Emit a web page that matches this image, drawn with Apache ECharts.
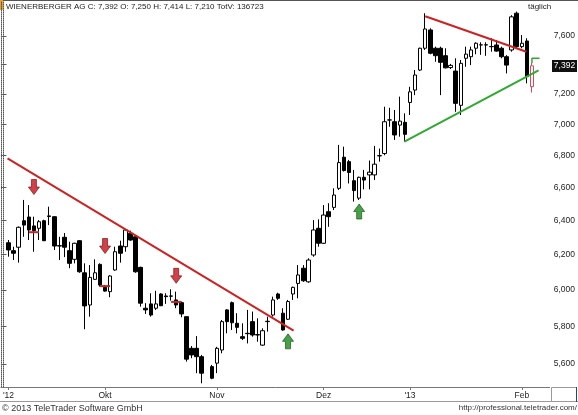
<!DOCTYPE html>
<html>
<head>
<meta charset="utf-8">
<script src="https://cdn.jsdelivr.net/npm/echarts@6/dist/echarts.min.js"></script>
<style>
  html, body { margin: 0; padding: 0; background: #fff; }
  #chart { width: 578px; height: 415px; }
</style>
</head>
<body>
<div id="chart"></div>
<script>
// Tageskerzen Sep 2012 - Feb 2013: [open, close, low, high], null = leerer Platz
const candles = [
  [6269, 6227, 6188, 6285], [6223, 6208, 6169, 6246], [6243, 6360, 6154, 6365],
  [6399, 6373, 6304, 6524], [6421, 6344, 6285, 6493], [6368, 6340, 6217, 6423],
  [6354, 6393, 6285, 6403], [6399, 6281, 6279, 6405], [6424, 6428, 6373, 6483],
  [6423, 6250, 6227, 6425], [6252, 6250, 6169, 6304], [6301, 6243, 6186, 6326],
  [6223, 6150, 6122, 6275], [6173, 6266, 6150, 6269], [6281, 6102, 6096, 6285],
  [6096, 5911, 5784, 6150], [5916, 6070, 5852, 6140], [6059, 6096, 6055, 6173],
  [6144, 6027, 6018, 6150], [6014, 5993, 5990, 6027], [5990, 6078, 5959, 6082],
  [6112, 6217, 6108, 6246], [6250, 6208, 6154, 6281], [6246, 6344, 6217, 6348],
  [6324, 6285, 6281, 6340], [6304, 6102, 6096, 6314], [6127, 5926, 5907, 6131],
  [5898, 5889, 5867, 5926], [5922, 5861, 5852, 5981], [5898, 5922, 5889, 5995],
  [5977, 5912, 5910, 5981], [5966, 5962, 5922, 5981], [5966, 5965, 5940, 6003],
  [5944, 5916, 5898, 5990], [5929, 5867, 5849, 5935], [5852, 5625, 5612, 5855],
  [5682, 5647, 5630, 5694], [5682, 5638, 5552, 5747], [5638, 5552, 5500, 5647],
  null,
  [5586, 5526, 5521, 5595], [5604, 5682, 5552, 5690], [5673, 5825, 5656, 5834],
  [5889, 5825, 5762, 5893], [5929, 5819, 5780, 5935], [5816, 5794, 5762, 5871],
  [5744, 5735, 5726, 5816], [5762, 5760, 5708, 5889], [5825, 5753, 5744, 5880],
  [5755, 5753, 5717, 5843], [5699, 5776, 5695, 5789], [5825, 5827, 5771, 5852],
  [5861, 5944, 5852, 5962], [5977, 5953, 5944, 5984], [5871, 5780, 5776, 5898],
  [5838, 5935, 5834, 5944], [5977, 6014, 5944, 6018], [6036, 6084, 5953, 6140],
  [6122, 6051, 6045, 6140], [6045, 6169, 6040, 6179], [6198, 6344, 6188, 6403],
  [6354, 6266, 6246, 6407], [6266, 6433, 6262, 6493], [6453, 6423, 6363, 6504],
  [6479, 6554, 6463, 6595], [6595, 6755, 6585, 6867], [6789, 6705, 6699, 6856],
  [6761, 6693, 6625, 6772], [6642, 6581, 6514, 6709], [6535, 6663, 6524, 6667],
  [6663, 6646, 6589, 6709], [6678, 6695, 6589, 6768], [6678, 6745, 6646, 6861],
  [6797, 6799, 6761, 6844], [6812, 7017, 6801, 7116], [7028, 7029, 6984, 7109],
  [7017, 6931, 6899, 7094], [6995, 7021, 6920, 7183], [7013, 6935, 6888, 7072],
  [7144, 7215, 7061, 7249], [7227, 7329, 7193, 7363], [7363, 7514, 7356, 7518],
  [7514, 7650, 7502, 7763], [7643, 7479, 7472, 7655], [7514, 7462, 7420, 7525],
  [7514, 7416, 7193, 7525], [7462, 7378, 7374, 7514], [7380, 7395, 7370, 7405],
  [7356, 7138, 7082, 7444], [7125, 7409, 7061, 7432], [7444, 7473, 7386, 7525],
  [7455, 7502, 7397, 7525], [7514, 7549, 7472, 7556], [7537, 7538, 7468, 7556],
  [7538, 7537, 7461, 7556], [7526, 7525, 7490, 7584], [7537, 7494, 7490, 7572],
  [7514, 7455, 7444, 7525], [7455, 7397, 7340, 7466], [7502, 7737, 7490, 7749],
  [7763, 7525, 7514, 7775], [7525, 7549, 7514, 7607], [7565, 7318, 7272, 7584],
  [7250, 7392, 7210, 7414]
];

const slotCount = 108; // 1 leerer Platz links, 3 rechts
const monthTicks = { 1: "'12", 20: "Okt", 42: "Nov", 63: "Dez", 80: "'13", 102: "Feb" };
const yTicks = [5600, 5800, 6000, 6200, 6400, 6600, 6800, 7000, 7200, 7400, 7600];
const yMin = 5481;
const yMax = 7852;
const lastClose = 7392;

// Trendlinien (x = Platz-Index, y = Kurs)
const redTrend1 = [[0.8, 6782], [57.1, 5776]];
const redTrend2 = [[83.0, 7741], [102.9, 7490]];
const greenTrend = [[78.9, 6888], [105.3, 7360]];
const greenMark = [[104.0, 7409], [104.0, 7444], [105.5, 7444]];
const redMarks = [[6, 6331], [20, 6021], [34, 5933]];
const downArrows = [[6, 6603], [20, 6250], [34, 6079]];
const upArrows = [[56, 5719], [70, 6454]];

const titleText = "WIENERBERGER AG C: 7,392 O: 7,250 H: 7,414 L: 7,210 TotV: 136723";

const fmt = (v) => Math.round(v).toLocaleString("en-US");

const categories = [];
for (let i = 0; i < slotCount; i++) categories.push(monthTicks[i] || "");

const candleData = [];
candles.forEach((c, i) => {
  if (!c) return;
  const item = { value: [i + 1].concat(c) };
  if (i === candles.length - 1) {
    item.itemStyle = { color: "#ffffff", borderColor: "#d44c5c" };
  }
  candleData.push(item);
});

const trendSeries = (data, color) => ({
  type: "line",
  xAxisIndex: 1,
  yAxisIndex: 0,
  data: data,
  symbol: "none",
  silent: true,
  z: 3,
  lineStyle: { color: color, width: 2 },
});

const downPath = "path://M3,0 L8,0 L8,7 L11,7 L5.5,14 L0,7 L3,7 Z";
const upPath = "path://M5.5,0 L11,7 L8,7 L8,14 L3,14 L3,7 L0,7 Z";

const series = [
  {
    type: "candlestick",
    xAxisIndex: 0,
    yAxisIndex: 0,
    barWidth: 4,
    encode: { x: 0, y: [1, 2, 3, 4] },
    data: candleData,
    itemStyle: {
      color: "#ffffff",
      color0: "#000000",
      borderColor: "#000000",
      borderColor0: "#000000",
      borderWidth: 1,
    },
  },
  trendSeries(redTrend1, "#cc2222"),
  trendSeries(redTrend2, "#cc2222"),
  trendSeries(greenTrend, "#2faa2f"),
  {
    type: "line",
    xAxisIndex: 1,
    data: greenMark,
    symbol: "none",
    silent: true,
    lineStyle: { color: "#2faa2f", width: 1.5 },
  },
];

redMarks.forEach(([s, p]) => {
  series.push({
    type: "line",
    xAxisIndex: 1,
    data: [[s - 1, p], [s + 1, p]],
    symbol: "none",
    silent: true,
    z: 3,
    lineStyle: { color: "#cc2222", width: 2 },
  });
});

series.push({
  type: "scatter",
  xAxisIndex: 1,
  data: downArrows,
  symbol: downPath,
  symbolSize: [11, 15],
  silent: true,
  z: 4,
  itemStyle: { color: "#c8101a", borderColor: "#700808", borderWidth: 0.8 },
});
series.push({
  type: "scatter",
  xAxisIndex: 1,
  data: upArrows,
  symbol: upPath,
  symbolSize: [11, 15],
  silent: true,
  z: 4,
  itemStyle: { color: "#1a8a1a", borderColor: "#0b500b", borderWidth: 0.8 },
});

const frame = [
  { type: "line", shape: { x1: 0, y1: 0.5, x2: 578, y2: 0.5 }, style: { stroke: "#555555", lineWidth: 1 }, silent: true },
  { type: "rect", shape: { x: 0, y: 0, width: 3, height: 10 }, style: { fill: "#f0a030" }, silent: true },
  {
    type: "text", left: 6, top: 3, silent: true,
    style: { text: titleText, fontSize: 8, fontFamily: "Liberation Sans", fill: "#222222" },
  },
  {
    type: "text", left: 528, top: 3, silent: true,
    style: { text: "täglich", fontSize: 8, fontFamily: "Liberation Sans", fill: "#222222" },
  },
  { type: "line", shape: { x1: 0, y1: 401.5, x2: 578, y2: 401.5 }, style: { stroke: "#9a9a9a", lineWidth: 1 }, silent: true },
  { type: "rect", shape: { x: 551.5, y: 387.5, width: 25, height: 14 }, style: { fill: "#ffffff", stroke: "#9a9a9a" }, silent: true },
  { type: "line", shape: { x1: 576.5, y1: 387, x2: 576.5, y2: 402 }, style: { stroke: "#2040a0", lineWidth: 1 }, silent: true },
  {
    type: "text", left: 2, top: 404, silent: true,
    style: { text: "© 2013 TeleTrader Software GmbH", fontSize: 9, fontFamily: "Liberation Sans", fill: "#333333" },
  },
  {
    type: "text", right: 1, top: 404, silent: true,
    style: { text: "http://professional.teletrader.com/", fontSize: 8, fontFamily: "Liberation Sans", fill: "#333333" },
  },
];

const chart = echarts.init(document.getElementById("chart"), null, { renderer: "canvas" });

chart.setOption({
  animation: false,
  backgroundColor: "#ffffff",
  textStyle: { fontFamily: "Liberation Sans" },
  grid: { left: 0, right: 27, top: 1, bottom: 28 },
  xAxis: [
    {
      type: "category",
      data: categories,
      boundaryGap: true,
      axisLine: { lineStyle: { color: "#777777" } },
      axisTick: {
        show: true,
        alignWithLabel: true,
        interval: (i, v) => v !== "",
        length: 3,
        lineStyle: { color: "#777777" },
      },
      axisLabel: {
        interval: 0,
        fontSize: 8.5,
        color: "#222222",
        margin: 4,
      },
      splitLine: { show: false },
    },
    {
      type: "value",
      min: -0.5,
      max: slotCount - 0.5,
      show: false,
    },
  ],
  yAxis: [
    {
      type: "log",
      position: "right",
      min: yMin,
      max: yMax,
      axisLine: { show: true, lineStyle: { color: "#555555", type: "dotted" } },
      axisTick: { show: true, customValues: yTicks, length: 3, lineStyle: { color: "#555555" } },
      axisLabel: {
        customValues: yTicks,
        formatter: (v) => fmt(v),
        fontSize: 8.5,
        color: "#222222",
        margin: 4,
      },
      splitLine: { show: false },
    },
    {
      type: "log",
      position: "left",
      min: yMin,
      max: yMax,
      axisLine: { show: true, lineStyle: { color: "#555555", type: "dotted" } },
      axisTick: { show: true, inside: true, customValues: yTicks, length: 2, lineStyle: { color: "#555555" } },
      axisLabel: { show: false },
      splitLine: { show: false },
    },
  ],
  series: series,
  graphic: frame,
});

// Kursmarke am rechten Rand, Position aus der y-Achse
const yLast = chart.convertToPixel({ yAxisIndex: 0 }, lastClose);
chart.setOption({
  graphic: frame.concat([
    {
      type: "rect", silent: true, z: 10,
      shape: { x: 552, y: Math.round(yLast) - 6, width: 25, height: 12 },
      style: { fill: "#111111" },
    },
    {
      type: "text", silent: true, z: 11,
      x: 564.5, y: Math.round(yLast),
      style: {
        text: fmt(lastClose), fontSize: 8.5, fontFamily: "Liberation Sans",
        fill: "#ffffff", align: "center", verticalAlign: "middle",
      },
    },
  ]),
});
</script>
</body>
</html>
